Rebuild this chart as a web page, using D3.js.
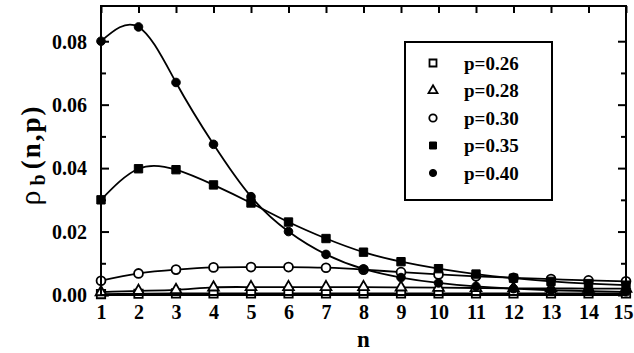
<!DOCTYPE html>
<html>
<head>
<meta charset="utf-8">
<script src="https://cdn.jsdelivr.net/npm/d3@7"></script>
<style>
  body { margin: 0; background: #fff; }
  svg { display: block; }
  text { font-family: "Liberation Serif", "Times New Roman", serif; font-weight: bold; fill: #000; }
</style>
</head>
<body>
<svg id="chart" width="634" height="353"></svg>
<script>
// data
const nValues = [1, 2, 3, 4, 5, 6, 7, 8, 9, 10, 11, 12, 13, 14, 15];
const p026 = [0.0003, 0.0004, 0.0005, 0.0005, 0.0005, 0.0005, 0.0005, 0.0005, 0.0005, 0.0005, 0.0005, 0.0005, 0.0005, 0.0005, 0.0005];
const p028 = [0.0009, 0.0013, 0.0016, 0.0024, 0.0025, 0.0025, 0.0025, 0.0025, 0.0024, 0.0023, 0.0022, 0.0021, 0.0021, 0.0020, 0.0020];
const p030 = [0.0045, 0.0068, 0.0080, 0.0087, 0.0088, 0.0088, 0.0086, 0.0080, 0.0072, 0.0065, 0.0059, 0.0054, 0.0050, 0.0046, 0.0043];
const p035 = [0.0300, 0.0398, 0.0395, 0.0347, 0.0290, 0.0230, 0.0178, 0.0135, 0.0105, 0.0083, 0.0066, 0.0053, 0.0043, 0.0036, 0.0031];
const p040 = [0.0800, 0.0845, 0.0670, 0.0475, 0.0310, 0.0200, 0.0128, 0.0082, 0.0055, 0.0038, 0.0027, 0.0020, 0.0015, 0.0012, 0.0010];
const yTicks = [0, 0.02, 0.04, 0.06, 0.08];
const yMinor = [0.01, 0.03, 0.05, 0.07];

const series = [
  { label: 'p=0.26', values: p026, symbol: 'square', filled: false },
  { label: 'p=0.28', values: p028, symbol: 'triangle', filled: false },
  { label: 'p=0.30', values: p030, symbol: 'circle', filled: false },
  { label: 'p=0.35', values: p035, symbol: 'square', filled: true },
  { label: 'p=0.40', values: p040, symbol: 'circle', filled: true }
];

const margin = { left: 101, top: 6, right: 8, bottom: 58 };
const width = 634 - margin.left - margin.right;
const height = 353 - margin.top - margin.bottom;

const svg = d3.select('#chart');
const g = svg.append('g').attr('transform', `translate(${margin.left},${margin.top})`);

const x = d3.scaleLinear().domain([1, 15]).range([0, width]);
const y = d3.scaleLinear().domain([0, 0.0911]).range([height, 0]);

const symbolType = { square: d3.symbolSquare, triangle: d3.symbolTriangle, circle: d3.symbolCircle };
const symbolSize = (s) => (s.symbol === 'circle' ? (s.filled ? 58 : 62) : (s.symbol === 'triangle' ? 50 : 70));

/// axes
const tickStyle = (sel) => {
  sel.select('.domain').remove();
  sel.selectAll('line').attr('stroke', '#000').attr('stroke-width', 2);
};

g.append('g')
  .attr('transform', `translate(0,${height})`)
  .call(d3.axisBottom(x).tickValues(nValues).tickSizeInner(-7).tickSizeOuter(0).tickPadding(10).tickFormat(d3.format('d')))
  .call(tickStyle)
  .call((a) => a.selectAll('text').style('font-size', '20px'))
  // last label sits on the page edge; nudge it so it stays inside
  .call((a) => a.selectAll('text').filter((d) => d === 15).attr('dx', -3));

g.append('g')
  .call(d3.axisTop(x).tickValues(nValues).tickSizeInner(-7).tickSizeOuter(0).tickFormat(''))
  .call(tickStyle);

g.append('g')
  .call(d3.axisLeft(y).tickValues(yTicks).tickSizeInner(-8).tickSizeOuter(0).tickPadding(14).tickFormat(d3.format('.2f')))
  .call(tickStyle)
  .call((a) => a.selectAll('text').style('font-size', '20px').attr('dy', '0.34em'));

g.append('g')
  .call(d3.axisLeft(y).tickValues(yMinor).tickSizeInner(-5).tickSizeOuter(0).tickFormat(''))
  .call(tickStyle);

g.append('g')
  .attr('transform', `translate(${width},0)`)
  .call(d3.axisRight(y).tickValues(yTicks).tickSizeInner(-8).tickSizeOuter(0).tickFormat(''))
  .call(tickStyle);

g.append('g')
  .attr('transform', `translate(${width},0)`)
  .call(d3.axisRight(y).tickValues(yMinor).tickSizeInner(-5).tickSizeOuter(0).tickFormat(''))
  .call(tickStyle);

/// curves
const line = d3.line()
  .x((d, i) => x(nValues[i]))
  .y((d) => y(d))
  .curve(d3.curveNatural);

g.selectAll('path.curve')
  .data(series)
  .enter().append('path')
  .attr('class', 'curve')
  .attr('d', (s) => line(s.values))
  .attr('fill', 'none')
  .attr('stroke', '#000')
  .attr('stroke-width', 1.8);

/// markers
series.forEach((s) => {
  g.append('g')
    .selectAll('path')
    .data(s.values)
    .enter().append('path')
    .attr('transform', (d, i) => `translate(${x(nValues[i])},${y(d)})`)
    .attr('d', d3.symbol().type(symbolType[s.symbol]).size(symbolSize(s)))
    .attr('fill', s.filled ? '#000' : '#fff')
    .attr('stroke', '#000')
    .attr('stroke-width', s.filled ? 1 : 1.8);
});

/// frame
g.append('rect')
  .attr('width', width)
  .attr('height', height)
  .attr('fill', 'none')
  .attr('stroke', '#000')
  .attr('stroke-width', 2);

/// legend
const legend = svg.append('g').attr('transform', 'translate(405,42)');
legend.append('rect')
  .attr('width', 147)
  .attr('height', 158)
  .attr('fill', '#fff')
  .attr('stroke', '#000')
  .attr('stroke-width', 2);

const rows = legend.selectAll('g.row')
  .data(series)
  .enter().append('g')
  .attr('class', 'row')
  .attr('transform', (s, i) => `translate(0,${21 + i * 27.5})`);

rows.append('path')
  .attr('transform', 'translate(28,0)')
  .attr('d', (s) => d3.symbol().type(symbolType[s.symbol]).size(symbolSize(s) * 0.7)())
  .attr('fill', (s) => (s.filled ? '#000' : '#fff'))
  .attr('stroke', '#000')
  .attr('stroke-width', (s) => (s.filled ? 1 : 1.8));

rows.append('text')
  .attr('x', 59)
  .attr('dy', '0.35em')
  .style('font-size', '19px')
  .text((s) => s.label);

/// axis titles
svg.append('text')
  .attr('x', margin.left + x(8))
  .attr('y', 347)
  .attr('text-anchor', 'middle')
  .style('font-size', '23px')
  .text('n');

const yTitle = svg.append('text')
  .attr('transform', 'translate(40,155) rotate(-90)')
  .attr('text-anchor', 'middle')
  .style('font-size', '27px')
  .style('letter-spacing', '2px');
yTitle.append('tspan').style('font-weight', 'normal').style('font-size', '30px').text('ρ');
yTitle.append('tspan').attr('dx', 3).attr('dy', 5).style('font-size', '20px').text('b');
yTitle.append('tspan').attr('dx', 3).attr('dy', -5).text('(n,p)');
</script>
</body>
</html>
